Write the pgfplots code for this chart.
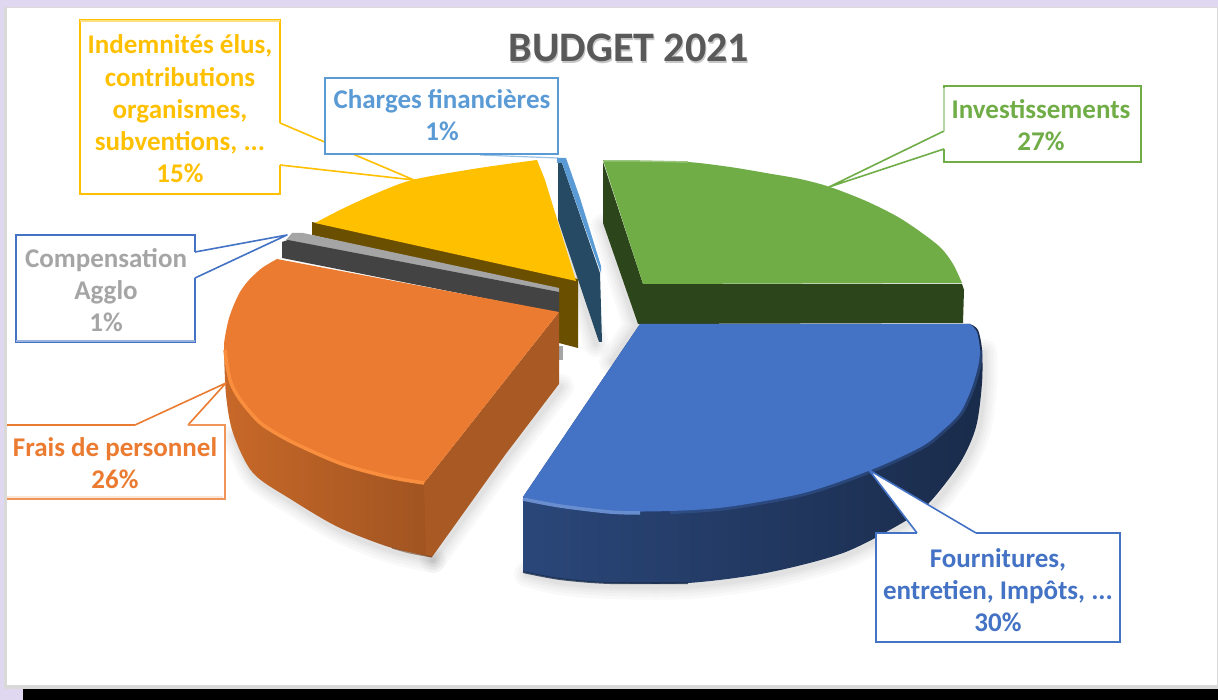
\documentclass[border=0pt]{standalone}
\usepackage{fontspec}
\setmainfont{Carlito}
\usepackage{pgfplots}
\pgfplotsset{compat=1.18}

\definecolor{lav}{HTML}{E0D8F0}
\definecolor{edge}{HTML}{D9D9D9}
\definecolor{vert}{HTML}{70AD47}
\definecolor{vertS}{HTML}{2C451B}
\definecolor{bleu}{HTML}{4472C4}
\definecolor{orange}{HTML}{EB7B30}
\definecolor{orangeL}{HTML}{F98F3E}
\definecolor{jaune}{HTML}{FFC000}
\definecolor{jauneS}{HTML}{6B4F00}
\definecolor{gris}{HTML}{A5A5A5}
\definecolor{grisS}{HTML}{434343}
\definecolor{ciel}{HTML}{5B9BD5}
\definecolor{cielS}{HTML}{264A63}

\tikzset{
  face/.style={fill=#1,draw=none},
  trait/.style={draw=#1,line width=1.6pt,line join=round},
  boite/.style={draw=#1,line width=2.6pt,line join=miter},
  pale/.style={draw=#1,line width=2.6pt},
  ombre/.style={draw=black,opacity=0.022,line width=#1,line cap=round,line join=round},
  etiq/.style={text=#1,align=center,inner sep=0pt,font=\fontsize{27}{32.3}\selectfont\bfseries},
}

\begin{document}
\begin{tikzpicture}
\begin{axis}[
  hide axis, scale only axis, width=1218pt, height=700pt,
  xmin=0, xmax=1218, ymin=0, ymax=700, y dir=reverse,
]
% fond
\addplot[face=lav] coordinates {(0,0)(1218,0)(1218,700)(0,700)} --cycle;
\addplot[face=edge] coordinates {(4,7)(1218,7)(1218,689)(4,689)} --cycle;
\addplot[face=white] coordinates {(7,8)(1217,8)(1217,685)(7,685)} --cycle;
\addplot[face=black] coordinates {(23,689)(1218,689)(1218,700)(23,700)} --cycle;

% ombres
\pgfplotsinvokeforeach{26pt,20pt,14pt,9pt,5pt}{
  \addplot[ombre=#1,smooth] coordinates {(527,574)(560,582)(610,586)(688,586)(766,576)(843,556)(902,526)(932,506)(962,466)(978,430)(984,386)(984,352)};
  \addplot[ombre=#1,smooth] coordinates {(235,436)(255,476)(294,503)(340,530)(390,550)(433,560)};
  \addplot[ombre=#1] coordinates {(433,560)(507,457)(561,387)};
  \addplot[ombre=#1] coordinates {(604,226)(636,326)(612,362)};
  \addplot[ombre=#1] coordinates {(562,226)(596,344)};
}

% Investissements
\addplot[face=vertS] coordinates {(603,162)(643,284)(962,284)(964,290)(963,323)(638,324)(603,223)} --cycle;
\addplot[face=vert,smooth] coordinates {(603,160)(640,161)(688,162)(730,167)(766,173)(800,179)(830,187)(866,201)(898,217)(922,233)(941,248)(953,264)(962,283)} -- (axis cs:643,284) -- cycle;
\addplot[draw=vert!70!white,line width=1.5pt] coordinates {(604,161)(640,161)(688,162)};

% Charges financieres
\addplot[face=cielS] coordinates {(558,163)(562,163)(600,273)(602,342)(599,342)(558,220)} --cycle;
\addplot[face=ciel] coordinates {(557,158)(566,158)(580,198)(601,266)(601,273)(575,200)(562,163)(557,163)} --cycle;

% Indemnites
\addplot[face=jauneS] coordinates {(312,222)(578,279)(578,348)(559,343)(559,291)(312,235)} --cycle;
\addplot[face=jaune,smooth] coordinates {(315,223)(342,209)(377,193)(412,180)(467,170)(500,165)(537,160)} -- (axis cs:545,180) -- (axis cs:576,281) -- cycle;

% Compensation
\addplot[face=gris] coordinates {(559,346)(563,346)(563,360)(559,360)} --cycle;
\addplot[face=gris] coordinates {(286,240)(292,233)(303,233)(559,288)(559,293)} --cycle;
\addplot[face=grisS] coordinates {(282,242)(288,240)(559,292)(559,313)(282,258)} --cycle;

% Frais de personnel
\addplot[left color=orange!85!black,right color=orange!68!black,draw=none,smooth] coordinates {(224,350)(226,395)(233,433)(253,473)(292,500)(338,527)(389,547)(432,557)} -- (axis cs:425,484) -- cycle;
\addplot[face=orange!72!black] coordinates {(424,483)(559,312)(559,384)(505,455)(432,557)(426,556)} --cycle;
\addplot[face=orange,smooth] coordinates {(424,483)(389,478)(342,465)(292,443)(262,426)(249,413)(238,398)(230,383)(226,365)(224,345)(228,322)(233,307)(240,292)(249,280)(262,268)(277,259)} -- (axis cs:559,312) -- cycle;
\addplot[draw=orangeL,line width=3.5pt,smooth] coordinates {(225,350)(227,365)(231,383)(239,398)(250,412)(263,425)(292,442)(342,464)(389,477)(424,483)};
\addplot[draw=orange!40!black,line width=1.2pt,opacity=0.5,smooth] coordinates {(392,548)(410,553)(432,557)};

% Fournitures
\addplot[draw=none,left color=bleu!62!black,middle color=bleu!42!black,right color=bleu!38!black,smooth] coordinates {(523,572)(560,579)(610,583)(688,583)(766,573)(843,553)(902,523)(929,503)(960,463)(976,427)(982,383)(982,350)(978,330)(970,324)} -- (axis cs:640,324) -- (axis cs:523,497) -- cycle;
\addplot[draw=black!60!bleu,line width=2pt,opacity=0.8,smooth] coordinates {(523,572)(560,579)(610,583)(688,583)};
\addplot[face=bleu,smooth] coordinates {(970,324)(977,332)(980,350)(978,367)(971,390)(960,413)(942,431)(921,447)(871,470)(804,493)(727,507)(670,511)(610,511)(560,505)(523,497)} -- (axis cs:640,324) -- cycle;
\addplot[draw=bleu,line width=6pt,opacity=0.3,smooth] coordinates {(980,350)(978,367)(971,390)(960,413)(942,431)(921,447)(871,470)(804,493)(727,507)(670,511)};
\addplot[draw=bleu!80!white,line width=3.5pt,smooth] coordinates {(523,499)(560,506)(610,512)(640,513)};

% etiquettes
\addplot[face=white] coordinates {(80,20)(280,20)(280,123)(414,180)(280,165)(280,194)(80,194)} --cycle;
\addplot[trait=jaune] coordinates {(280,123)(414,180)(280,165)};
\addplot[boite=jaune] coordinates {(280,123)(280,20)(80,20)(80,194)(280,194)(280,165)};
\addplot[pale=jaune!50!white] coordinates {(80,21)(280,21)};

\addplot[face=white] coordinates {(325,78)(558,78)(558,154)(325,154)} --cycle;
\addplot[boite=ciel] coordinates {(325,78)(558,78)(558,154)(325,154)} --cycle;
\addplot[draw=ciel,line width=1.2pt,opacity=0.6] coordinates {(480,155)(558,158)};

\addplot[face=white] coordinates {(16,235)(195,235)(195,252)(287,235)(195,278)(195,342)(16,342)} --cycle;
\addplot[trait=bleu] coordinates {(195,252)(287,235)(195,278)};
\addplot[boite=bleu] coordinates {(195,252)(195,235)(16,235)(16,342)(195,342)(195,278)};
\addplot[pale=bleu!55!white] coordinates {(16,341)(195,341)};

\addplot[face=white] coordinates {(7,425)(135,425)(226,383)(188,425)(225,425)(225,499)(7,499)} --cycle;
\addplot[trait=orange] coordinates {(135,425)(226,383)(188,425)};
\addplot[boite=orange] coordinates {(7,425)(135,425)};
\addplot[boite=orange!80!white] coordinates {(188,425)(225,425)(225,499)(7,499)};
\addplot[face=orange!20!white] coordinates {(7,496)(223,496)(223,498)(7,498)} --cycle;

\addplot[face=white] coordinates {(944,86)(1141,86)(1141,162)(944,162)(944,149)(829,187)(944,131)} --cycle;
\addplot[trait=vert] coordinates {(944,131)(829,187)(944,149)};
\addplot[boite=vert] coordinates {(944,131)(944,86)(1141,86)(1141,162)(944,162)(944,149)};
\addplot[pale=vert!50!white] coordinates {(944,88)(944,131)};

\addplot[face=white] coordinates {(869,470)(917,533)(876,533)(876,642)(1120,642)(1120,533)(976,533)} --cycle;
\addplot[trait=bleu] coordinates {(917,533)(869,470)(976,533)};
\addplot[boite=bleu] coordinates {(917,533)(876,533)(876,642)(1120,642)(1120,533)(976,533)};

% textes
\node[text=black!22,font=\fontsize{42}{44}\selectfont\bfseries] at (axis cs:630,49.5) {BUDGET 2021};
\node[text=black!65,font=\fontsize{42}{44}\selectfont\bfseries] at (axis cs:629,48) {BUDGET 2021};
\node[etiq=jaune] at (axis cs:180,109) {Indemnités élus,\\contributions\\organismes,\\subventions, ...\\15\%};
\node[etiq=ciel] at (axis cs:442,115) {Charges financières\\1\%};
\node[etiq=gris] at (axis cs:106,290) {Compensation\\Agglo\\1\%};
\node[etiq=orange] at (axis cs:115,463) {Frais de personnel\\26\%};
\node[etiq=vert] at (axis cs:1041,125) {Investissements\\27\%};
\node[etiq=bleu] at (axis cs:998,590) {Fournitures,\\entretien, Impôts, ...\\30\%};
\end{axis}
\end{tikzpicture}
\end{document}
